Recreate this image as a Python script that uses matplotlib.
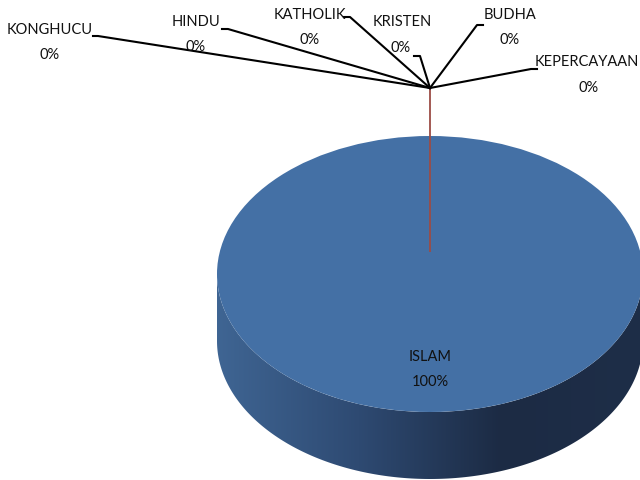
import numpy as np
import matplotlib
matplotlib.use('Agg')
import matplotlib.pyplot as plt
from matplotlib.patches import Ellipse, Polygon
from matplotlib.colors import LinearSegmentedColormap

plt.rcParams['font.family'] = ['Lato', 'DejaVu Sans']

# data
labels = ['ISLAM', 'KONGHUCU', 'HINDU', 'KATHOLIK', 'KRISTEN', 'BUDHA', 'KEPERCAYAAN']
values = [100, 0, 0, 0, 0, 0, 0]
pcts = [f'{v / sum(values) * 100:.0f}%' for v in values]

# label positions (name line, percent line) in pixel coords, and leader elbows
lab_xy = {'ISLAM': ((430, 357), (430, 382)),
          'KONGHUCU': ((50, 30), (50, 55)), 'HINDU': ((196, 22), (196, 47)),
          'KATHOLIK': ((310, 15), (310, 40)), 'KRISTEN': ((402, 22), (401, 48)),
          'BUDHA': ((510, 15), (510, 40)), 'KEPERCAYAAN': ((587, 62), (589, 88))}
elbow = {'KONGHUCU': [(93, 37), (98, 37)], 'HINDU': [(222, 30), (228, 30)],
         'KATHOLIK': [(344, 18), (350, 18)], 'KRISTEN': [(414, 57), (420, 57)],
         'BUDHA': [(483, 26), (477, 26)], 'KEPERCAYAAN': [(537, 70), (531, 70)]}
hub = (430, 89)

cx, cy, rx, ry, depth = 430, 275, 213, 138, 67

fig = plt.figure(figsize=(6.4, 4.81), dpi=100)
ax = fig.add_axes([0, 0, 1, 1])
ax.set_xlim(0, 640)
ax.set_ylim(481, 0)
ax.axis('off')

# side of the cylinder (front half) with horizontal gradient
t = np.linspace(0, np.pi, 200)
top_edge = np.column_stack([cx + rx * np.cos(t), cy + ry * np.sin(t)])
bot_edge = np.column_stack([cx + rx * np.cos(t[::-1]), cy + depth + ry * np.sin(t[::-1])])
side = Polygon(np.vstack([top_edge, bot_edge]), closed=True, facecolor='none', edgecolor='none')
ax.add_patch(side)
cmap = LinearSegmentedColormap.from_list('side', ['#3f6593', '#2e4a72', '#1c2b44', '#1e2e48'])
grad = np.linspace(0, 1, 256)[None, :]
im = ax.imshow(grad, cmap=cmap, extent=[cx - rx, cx + rx, cy + ry + depth, cy], aspect='auto', zorder=1)
im.set_clip_path(side)

# top face: slices from values
total = sum(values)
for lab, v in zip(labels, values):
    if v / total >= 1:
        ax.add_patch(Ellipse((cx, cy), 2 * rx, 2 * ry, facecolor='#4470a5', edgecolor='none', zorder=2))

# zero-width slices show as a thin line at the start angle
ax.plot([hub[0], cx], [hub[1], cy - 22], color='#9c4c45', lw=1.3, zorder=3, solid_capstyle='butt')

# labels
for lab, p in zip(labels, pcts):
    (nx, ny), (px, py) = lab_xy[lab]
    ax.text(nx, ny, lab, ha='center', va='center', fontsize=10.5, color='#111111', zorder=5)
    ax.text(px, py, p, ha='center', va='center', fontsize=10.5, color='#111111', zorder=5)
    if lab in elbow:
        (ex, ey), (fx, fy) = elbow[lab]
        ax.plot([ex, fx, hub[0]], [ey, fy, hub[1]], color='black', lw=1.5, zorder=4)

fig.savefig('out.png', dpi=100)
